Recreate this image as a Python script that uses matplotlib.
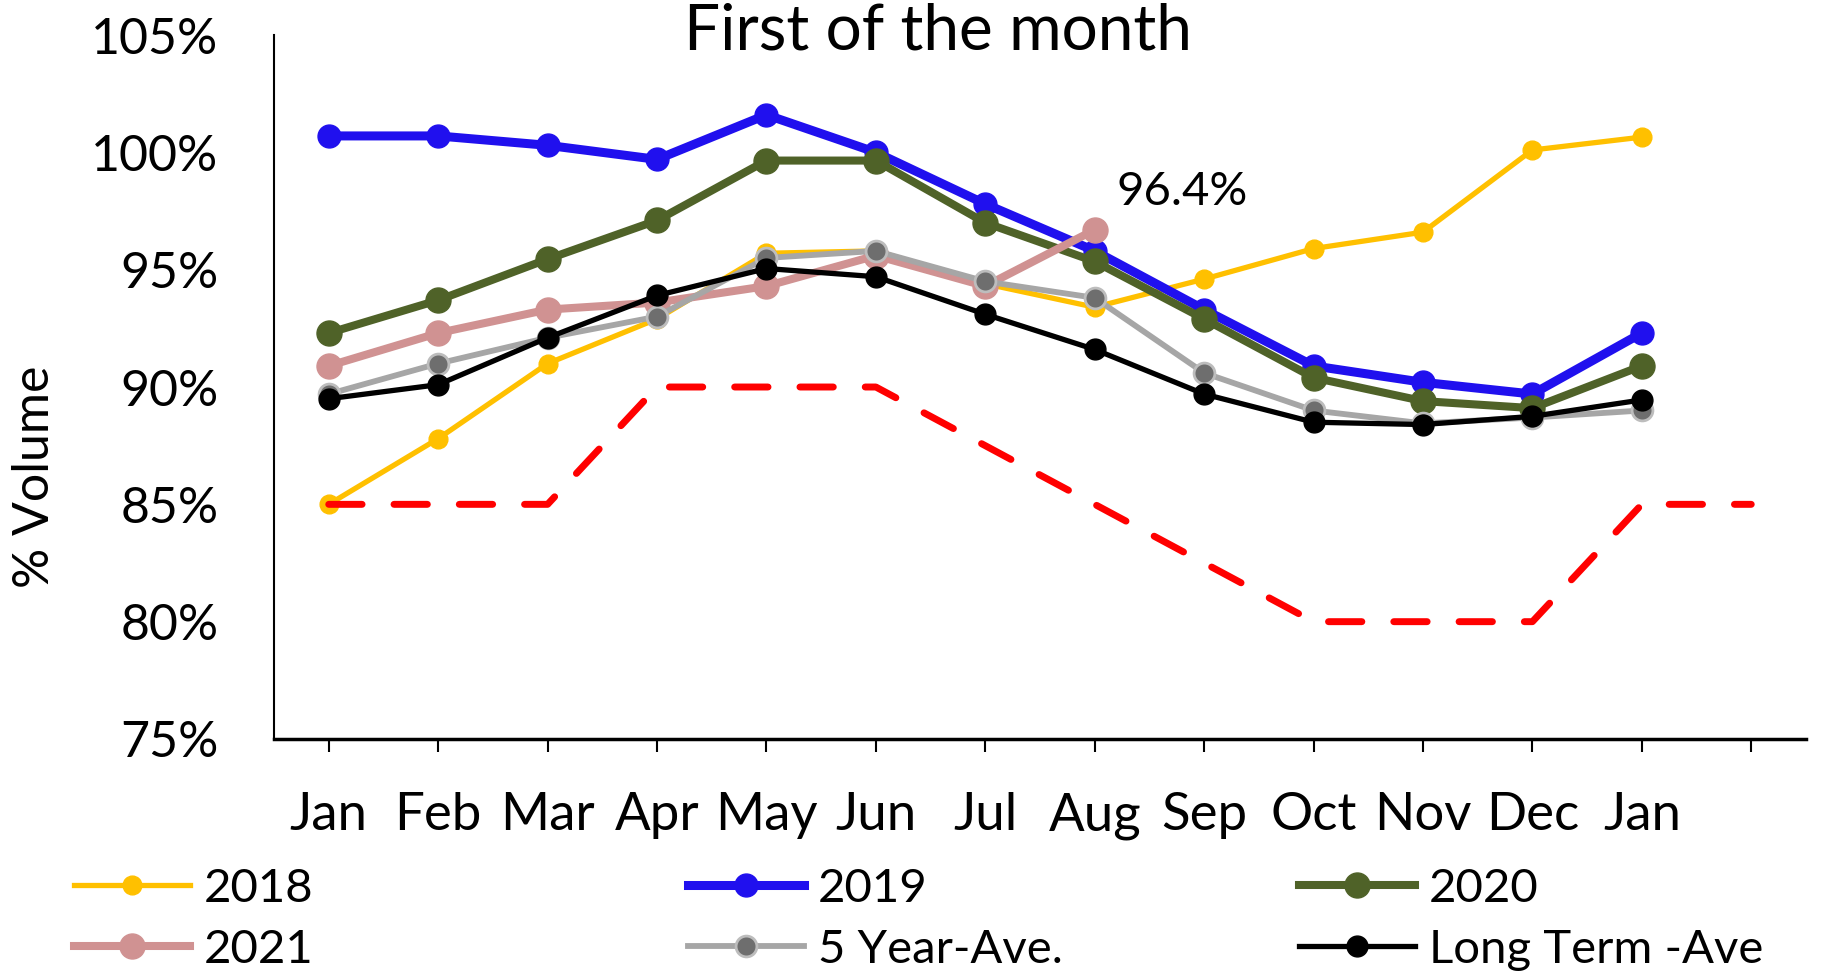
import matplotlib
matplotlib.use("Agg")
import matplotlib.pyplot as plt
import numpy as np

plt.rcParams['font.family'] = ['Lato', 'DejaVu Sans']

months = ["Jan", "Feb", "Mar", "Apr", "May", "Jun", "Jul", "Aug", "Sep", "Oct", "Nov", "Dec", "Jan", ""]

y2018 = [85.0, 87.8, 91.0, 92.9, 95.7, 95.8, 94.4, 93.4, 94.6, 95.9, 96.6, 100.1, 100.65]
y2019 = [100.7, 100.7, 100.3, 99.7, 101.6, 100.0, 97.8, 95.8, 93.3, 90.9, 90.2, 89.7, 92.3]
y2020 = [92.3, 93.7, 95.45, 97.1, 99.65, 99.65, 97.0, 95.35, 92.9, 90.4, 89.4, 89.1, 90.9]
y2021 = [90.9, 92.3, 93.3, 93.6, 94.3, 95.6, 94.3, 96.7]
y5yr = [89.7, 91.0, 92.1, 93.0, 95.5, 95.8, 94.5, 93.8, 90.6, 89.0, 88.45, 88.7, 89.0]
ylt = [89.5, 90.1, 92.1, 93.9, 95.05, 94.7, 93.1, 91.6, 89.7, 88.5, 88.4, 88.75, 89.45]
ytarget = [85, 85, 85, 90, 90, 90, 87.5, 85, 82.5, 80, 80, 80, 85, 85]

annot_text = "96.4%"

fig = plt.figure(figsize=(18.22, 9.73), dpi=100)
ax = fig.add_axes([0.1504, 0.2405, 0.9912 - 0.1504, 0.964 - 0.2405])

x = np.arange(len(months))

h2018, = ax.plot(x[:len(y2018)], y2018, color='#FFC000', lw=3.8, marker='o', ms=13.5, label='2018')
h2019, = ax.plot(x[:len(y2019)], y2019, color='#2010EE', lw=6.5, marker='o', ms=16.5, label='2019')
h2020, = ax.plot(x[:len(y2020)], y2020, color='#4F6228', lw=5.8, marker='o', ms=18, label='2020')
h2021, = ax.plot(x[:len(y2021)], y2021, color='#D09292', lw=5.8, marker='o', ms=18, label='2021')
h5, = ax.plot(x[:len(y5yr)], y5yr, color='#A6A6A6', lw=4.2, marker='o', ms=15,
              markerfacecolor='#6E6E6E', markeredgecolor='#BDBDBD', markeredgewidth=2, label='5 Year-Ave.')
hlt, = ax.plot(x[:len(ylt)], ylt, color='black', lw=3.8, marker='o', ms=15, label='Long Term -Ave')
ax.plot(x[:len(ytarget)], ytarget, color='#FF0000', lw=5, dashes=(4.8, 4.6), dash_capstyle='round')

ax.text(7.8, 98.3, annot_text, fontsize=34, ha='center', va='center')

ax.set_xlim(-0.5, 13.5)
ax.set_ylim(75, 105)
ax.set_xticks(x)
ax.set_xticklabels(months)
yt = [75, 80, 85, 90, 95, 100, 105]
ax.set_yticks(yt)
ax.set_yticklabels([f"{v}%" for v in yt])
ax.tick_params(axis='x', length=9.5, width=1.5, pad=29, labelsize=38)
ax.tick_params(axis='y', length=0, pad=40, labelsize=36)
ax.spines['top'].set_visible(False)
ax.spines['right'].set_visible(False)
ax.spines['left'].set_linewidth(1.5)
ax.spines['bottom'].set_linewidth(2.5)

fig.text(0.515, 1 - 50 / 973, "First of the month", fontsize=46, ha='center', va='baseline')
fig.text(0.019, 0.51, "% Volume", fontsize=36, rotation=90, ha='center', va='center')

cols = [[h2018, h2021], [h2019, h5], [h2020, hlt]]
xs = [74 / 1822, 688 / 1822, 1299 / 1822]
for hs, xx in zip(cols, xs):
    lg = fig.legend(handles=hs, labels=[h.get_label() for h in hs], loc='upper left',
                    bbox_to_anchor=(xx, 0.108), frameon=False, fontsize=34, borderpad=0,
                    borderaxespad=0, handlelength=2.45, handletextpad=0.3, labelspacing=0.4,
                    markerscale=1.0)

fig.savefig("out.png", dpi=100)
